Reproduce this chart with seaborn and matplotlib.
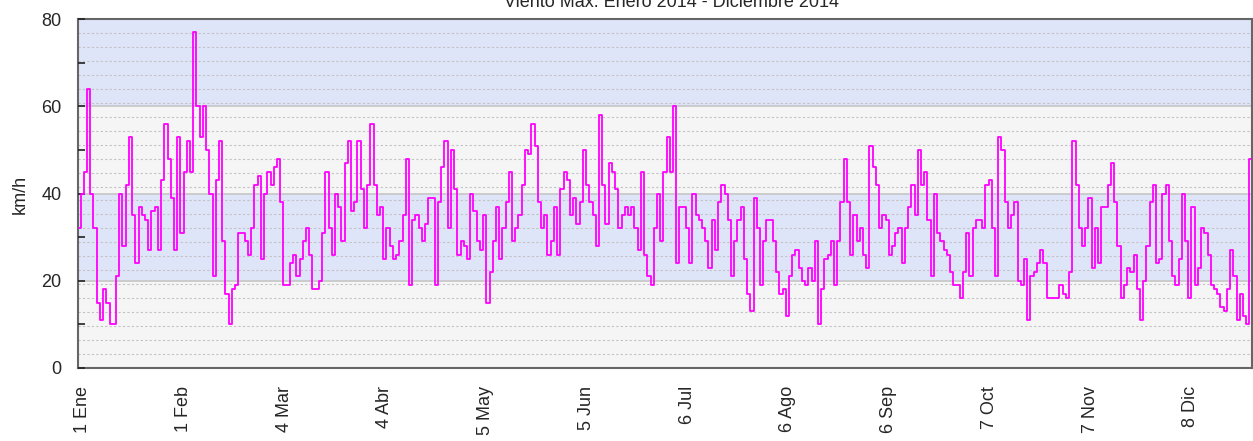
import numpy as np
import pandas as pd
import matplotlib
matplotlib.use("Agg")
import matplotlib.pyplot as plt
import seaborn as sns

# Daily max wind (km/h), 2014
ene = [32, 40, 45, 64, 40, 32, 15, 11, 18, 15, 10, 10, 21, 40, 28, 42, 53, 35, 24, 37,
       35, 34, 27, 36, 37, 27, 43, 56, 48, 39, 27]
feb = [53, 31, 45, 52, 45, 77, 60, 53, 60, 50, 40, 21, 43, 52, 29, 17, 10, 18, 19, 31,
       31, 29, 26, 32, 42, 44, 25, 40]
mar = [45, 42, 46, 48, 38, 19, 19, 24, 26, 21, 25, 29, 32, 26, 18, 18, 20, 31, 45, 32,
       26, 40, 37, 29, 47, 52, 36, 38, 52, 41, 32]
abr = [42, 56, 42, 35, 37, 25, 32, 28, 25, 26, 29, 35, 48, 19, 34, 35, 32, 29, 33, 39,
       39, 19, 38, 46, 52, 32, 50, 41, 26, 29]
may = [28, 25, 40, 36, 29, 27, 35, 15, 22, 29, 37, 25, 32, 38, 45, 29, 32, 35, 42, 50,
       49, 56, 51, 38, 32, 35, 26, 29, 37, 26, 41]
jun = [45, 43, 35, 39, 33, 38, 50, 42, 38, 35, 28, 58, 42, 33, 47, 45, 41, 32, 35, 37,
       35, 37, 32, 27, 45, 26, 21, 19, 32, 40]
jul = [29, 45, 53, 45, 60, 24, 37, 37, 32, 24, 40, 35, 34, 32, 29, 23, 34, 27, 38, 42,
       40, 34, 21, 29, 34, 37, 25, 17, 13, 39, 32]
ago = [19, 29, 34, 34, 29, 22, 17, 18, 12, 21, 26, 27, 23, 20, 19, 23, 20, 29, 10, 18,
       25, 26, 29, 19, 29, 38, 48, 38, 26, 35, 29]
sep = [32, 26, 23, 51, 46, 42, 32, 35, 34, 26, 28, 31, 32, 24, 32, 37, 42, 35, 50, 42,
       45, 34, 21, 40, 31, 29, 27, 26, 22, 19]
oct_ = [19, 16, 22, 31, 21, 32, 34, 34, 32, 42, 43, 32, 21, 53, 50, 38, 32, 35, 38, 20,
        19, 25, 11, 21, 22, 24, 27, 24, 16, 16, 16]
nov = [16, 19, 17, 16, 22, 52, 42, 32, 28, 32, 39, 23, 32, 24, 37, 37, 42, 47, 38, 28,
       16, 19, 23, 22, 26, 18, 11, 20, 28, 38]
dic = [42, 24, 25, 40, 42, 29, 21, 19, 25, 40, 29, 16, 37, 19, 23, 32, 31, 26, 19, 18,
       17, 14, 13, 18, 27, 21, 11, 17, 12, 10, 48]

tick_days = [0, 31, 62, 93, 124, 155, 186, 217, 248, 279, 310, 341]
tick_labels = ["1 Ene", "1 Feb", "4 Mar", "4 Abr", "5 May", "5 Jun",
               "6 Jul", "6 Ago", "6 Sep", "7 Oct", "7 Nov", "8 Dic"]
y_ticks = [0, 20, 40, 60, 80]
title = "Viento Máx. Enero 2014 - Diciembre 2014"

values = ene + feb + mar + abr + may + jun + jul + ago + sep + oct_ + nov + dic
df = pd.DataFrame({"dia": np.arange(len(values)), "kmh": values})

sns.set_style("white")
plt.rcParams["font.family"] = ["Liberation Sans", "DejaVu Sans"]

W, H = 1253, 441
fig = plt.figure(figsize=(W / 100, H / 100), dpi=100)
ax = fig.add_axes([78 / W, 1 - 368 / H, 1174 / W, 349 / H])
ax.set_axisbelow(False)

ax.set_facecolor("#f5f5f5")
blue = "#dfe5f9"
ax.axhspan(60, 80, color=blue, zorder=0, lw=0)
ax.axhspan(20, 40, color=blue, zorder=0, lw=0)
for v in np.arange(3.2, 80, 3.2):
    ax.axhline(v, color="#c2c2c2", lw=0.8, ls=(0, (2, 2)), zorder=0.5)
for v in (20, 40, 60):
    ax.axhline(v, color="#c6c6c6", lw=1.2, zorder=0.6)

sns.lineplot(data=df, x="dia", y="kmh", color="#ff00ff", lw=1.3,
             drawstyle="steps-mid", ax=ax, zorder=3)

ax.set_xlim(-0.3, len(values) - 0.7)
ax.set_ylim(0, 80)
ax.set_yticks(y_ticks)
ax.set_yticks([10, 30, 50, 70], minor=True)
ax.tick_params(axis="y", which="both", direction="in", length=5, width=1.2,
               color="#222222", pad=12, labelsize=13, left=True)
# the source chart spaces its date labels slightly wider than its daily points
ax.set_xticks(np.array(tick_days) * 1.009 + 1.2)
ax.set_xticklabels(tick_labels, rotation=90)
ax.tick_params(axis="x", length=0, pad=13, labelsize=13)
ax.set_xlabel("")
ax.set_ylabel("")
for s in ax.spines.values():
    s.set_color("#666666")
    s.set_linewidth(1.5)

fig.text(20 / W, 1 - 194 / H, "km/h", rotation=90, ha="center", va="center", fontsize=13)
fig.text(0.536, 1 - 7 / H, title, ha="center", va="baseline", fontsize=13)

fig.savefig("out.png", dpi=100, facecolor="white")
